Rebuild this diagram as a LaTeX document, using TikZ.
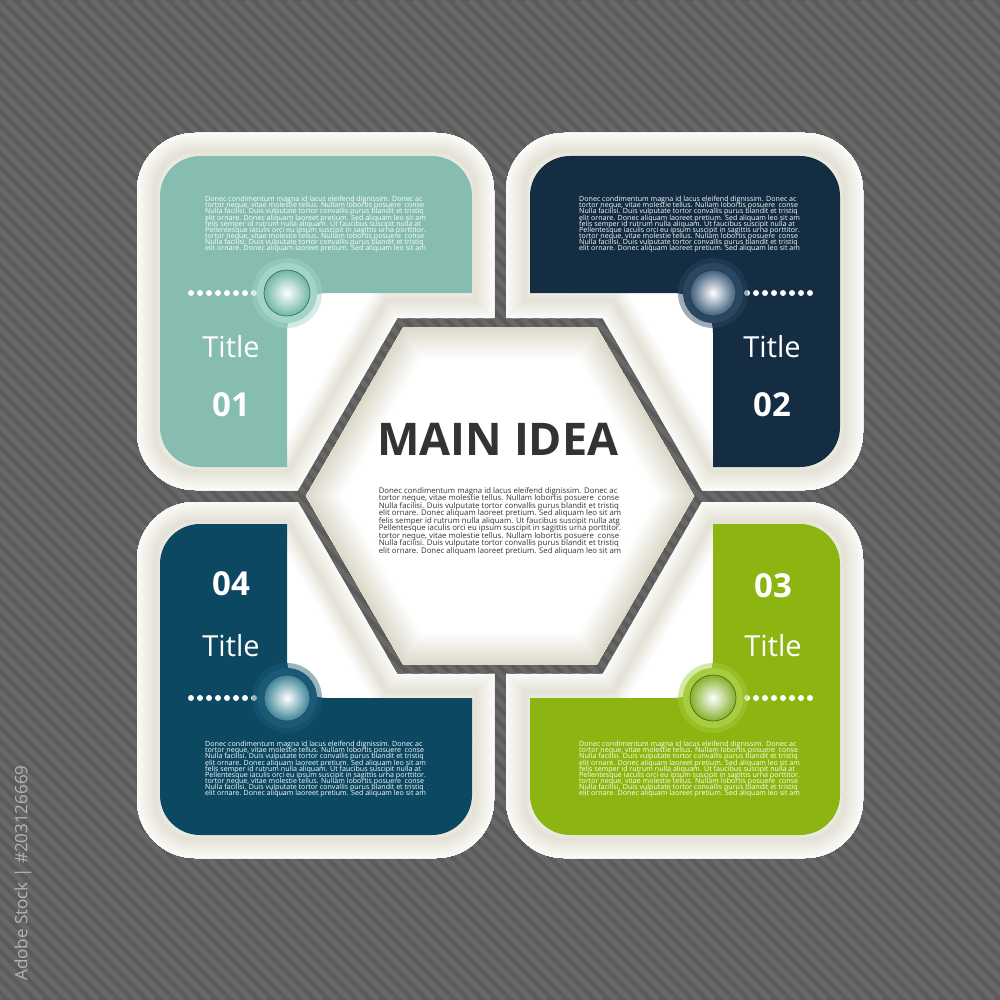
\documentclass[tikz,border=0pt]{standalone}
\usepackage{fontspec}
\setmainfont{Open Sans}
\usetikzlibrary{positioning,calc}

\definecolor{bgdark}{HTML}{5B5B5B}
\definecolor{bglight}{HTML}{686868}
\definecolor{creamD}{HTML}{D3CFBB}
\definecolor{panelA}{HTML}{87BDB0}
\definecolor{panelB}{HTML}{142D42}
\definecolor{panelC}{HTML}{8DB511}
\definecolor{panelD}{HTML}{0D4863}
\definecolor{ringA}{HTML}{A2D5C9}
\definecolor{ballA}{HTML}{6FB6A4}
\definecolor{ringB}{HTML}{2A4661}
\definecolor{ballB}{HTML}{3E5E7C}
\definecolor{ringC}{HTML}{A6CC40}
\definecolor{ballC}{HTML}{84B02A}
\definecolor{ringD}{HTML}{1B5A76}
\definecolor{ballD}{HTML}{3C8397}
\definecolor{inktext}{HTML}{333333}
\definecolor{sidegray}{HTML}{B4B4B4}

% filler text of the boxes, #1 = end of line five
\newcommand*{\lorem}[1]{Donec condimentum magna id lacus eleifend dignissim. Donec ac\\
tortor neque, vitae molestie tellus. Nullam lobortis posuere\ \ conse\\
Nulla facilisi. Duis vulputate tortor convallis purus blandit et tristiq\\
elit ornare. Donec aliquam laoreet pretium. Sed aliquam leo sit am\\
felis semper id rutrum nulla aliquam. Ut faucibus suscipit nulla #1\\
Pellentesque iaculis orci eu ipsum suscipit in sagittis urna porttitor.\\
tortor neque, vitae molestie tellus. Nullam lobortis posuere\ \ conse\\
Nulla facilisi. Duis vulputate tortor convallis purus blandit et tristiq\\
elit ornare. Donec aliquam laoreet pretium. Sed aliquam leo sit am}
% small type with fixed line distance
\newcommand*{\tinytype}[2]{\fontsize{#1}{#2}\selectfont\lineskiplimit=-20pt\relax}
% striped grey ground
\newcommand*{\bgstripes}{\fill[bgdark] (0,0) rectangle (1000,1000);
  \foreach \s in {-1000,-986,...,1000}{\draw[bgstripe] (\s,0) -- ++(1000,1000);}}
% soft cream edges (darkest about 19pt in)
\newcommand*{\tileglow}[1]{\foreach \w in {72,70,...,2}{%
  \pgfmathsetmacro{\c}{\w/2>19 ? max(0,60*(36-\w/2)/17) : 8+52*\w/38}%
  \draw[line width=\w pt,creamD!\c!white] #1;}}
\newcommand*{\hexglow}[1]{\foreach \w in {64,62,...,2}{%
  \pgfmathsetmacro{\c}{80*(1-\w/64)}%
  \draw[line width=\w pt,creamD!\c!white] #1;}}
% glass button
\newcommand*{\button}[3]{%
  \fill[#2,opacity=.45] (#1) circle[radius=35pt];
  \fill[#2] (#1) circle[radius=30pt];
  \shade[inner color=white,outer color=#3] (#1) circle[radius=23pt];
  \draw[#3!60!black,line width=.7pt] (#1) circle[radius=23pt];}

\tikzset{
  hex/.style={insert path={(C) +(0:#1) -- +(60:#1) -- +(120:#1) -- +(180:#1) -- +(240:#1) -- +(300:#1) -- cycle}},
  bgstripe/.style={bglight,line width=5pt},
  ttl/.style={white,font=\fontsize{29}{30}\selectfont,anchor=base,inner sep=0pt},
  numtxt/.style={white,font=\bfseries\fontsize{33}{34}\selectfont,anchor=base,inner sep=0pt},
  bodytxt/.style={white,font={\tinytype{7.1}{6.15}},align=left,anchor=north west,inner sep=0pt},
}

\begin{document}
\begin{tikzpicture}[x=1pt,y=-1pt]
\useasboundingbox (0,0) rectangle (1000,1000);
\clip (0,0) rectangle (1000,1000);
\coordinate (C) at (500,496);
% Background
\bgstripes
% Four cream tiles, cut by the hexagon
\foreach \xa/\ya/\xb/\yb in {137/133/494/490,506/133/863/490,137/502/494/858,506/502/863/858}{
  \begin{scope}
    \clip[rounded corners=58pt] (\xa,\ya) rectangle (\xb,\yb);
    \fill[white] (\xa,\ya) rectangle (\xb,\yb);
    \tileglow{[rounded corners=58pt] (\xa,\ya) rectangle (\xb,\yb) [sharp corners,hex=205]}
  \end{scope}
}
% Grey band round the hexagon
\begin{scope}
  \clip[hex=205];
  \bgstripes
\end{scope}
% Centre hexagon
\begin{scope}
  \clip[hex=194];
  \fill[white] (C) circle[radius=220pt];
  \hexglow{[hex=194]}
\end{scope}
% Coloured L shapes
\fill[panelA,rounded corners=40pt] (160,156) -- (472,156) -- (472,293) -- (287,293) -- (287,467) -- (160,467) -- cycle;
\fill[panelA] (432,253) rectangle (472,293) (247,427) rectangle (287,467);
\fill[panelB,rounded corners=40pt] (840,156) -- (530,156) -- (530,293) -- (713,293) -- (713,467) -- (840,467) -- cycle;
\fill[panelB] (530,253) rectangle (570,293) (713,427) rectangle (753,467);
\fill[panelD,rounded corners=40pt] (160,835) -- (472,835) -- (472,698) -- (287,698) -- (287,524) -- (160,524) -- cycle;
\fill[panelD] (432,698) rectangle (472,738) (247,524) rectangle (287,564);
\fill[panelC,rounded corners=40pt] (840,835) -- (530,835) -- (530,698) -- (713,698) -- (713,524) -- (840,524) -- cycle;
\fill[panelC] (530,698) rectangle (570,738) (713,524) rectangle (753,564);
% Dotted lines
\foreach \k in {0,...,7}{
  \fill[white] (191+9*\k,293) circle[radius=3pt];
  \fill[white] (747+9*\k,293) circle[radius=3pt];
  \fill[white] (191+9*\k,698) circle[radius=3pt];
  \fill[white] (747+9*\k,698) circle[radius=3pt];
}
% Buttons at the inner corners
\coordinate (b1) at (287,293);
\coordinate (b2) at (713,293);
\coordinate (b3) at (713,698);
\coordinate (b4) at (287,698);
\button{b1}{ringA}{ballA}
\button{b2}{ringB}{ballB}
\button{b3}{ringC}{ballC}
\button{b4}{ringD}{ballD}
% Titles and numbers
\node[ttl] (t1) at (231,357) {Title};
\node[numtxt] (n1) at (231,416) {01};
\node[ttl] (t2) at (772,357) {Title};
\node[numtxt] (n2) at (772,416) {02};
\node[numtxt] (n3) at (773,597) {03};
\node[ttl] (t3) at (773,656) {Title};
\node[numtxt] (n4) at (231,595) {04};
\node[ttl] (t4) at (231,656) {Title};
% Box texts
\node[bodytxt] (p1) at (205,196) {\lorem{at}};
\node[bodytxt] (p2) at (579,196) {\lorem{at}};
\node[bodytxt] (p3) at (579,741) {\lorem{at}};
\node[bodytxt] (p4) at (205,741) {\lorem{at}};
% Main idea
\node[inktext,font=\bfseries\fontsize{45}{46}\selectfont,anchor=base,inner sep=0pt] (main) at (498,455) {MAIN IDEA};
\node[bodytxt,inktext,font={\tinytype{7.8}{7.5}},anchor=north] (pm) at (500,487) {\lorem{atg}};
% Side note
\node[rotate=90,text=sidegray,font=\fontsize{17}{17}\selectfont] (stock) at (23,873) {Adobe Stock | \#203126669};
\end{tikzpicture}
\end{document}
